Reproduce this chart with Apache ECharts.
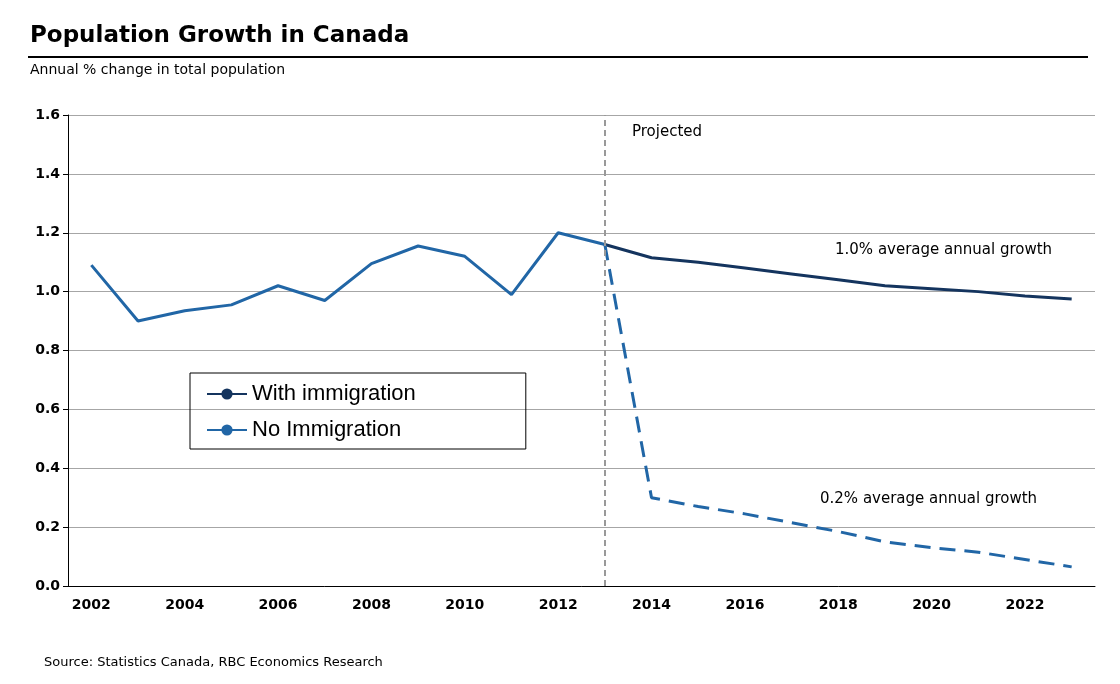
<!DOCTYPE html>
<html><head><meta charset="utf-8">
<script src="https://cdn.jsdelivr.net/npm/echarts@6/dist/echarts.min.js"></script>
<style>html,body{margin:0;background:#fff}#c{width:1120px;height:684px}</style>
</head><body><div id="c"></div>
<script>
const years = ['2002','2003','2004','2005','2006','2007','2008','2009','2010','2011','2012',
  '2013','2014','2015','2016','2017','2018','2019','2020','2021','2022','2023'];
const historical = [1.09,0.90,0.935,0.955,1.02,0.97,1.095,1.155,1.12,0.99,1.20,1.16,
  null,null,null,null,null,null,null,null,null,null];
const withImmigration = [null,null,null,null,null,null,null,null,null,null,null,1.16,
  1.115,1.10,1.08,1.06,1.04,1.02,1.01,1.00,0.985,0.975];
const noImmigration = [null,null,null,null,null,null,null,null,null,null,null,1.16,
  0.30,0.27,0.245,0.215,0.185,0.15,0.13,0.115,0.09,0.065];

const font = 'DejaVu Sans';
const chart = echarts.init(document.getElementById('c'));
chart.setOption({
  animation: false,
  textStyle: { fontFamily: font },
  grid: { left: 68, right: 25, top: 115, bottom: 98 },
  xAxis: {
    type: 'category', data: years, boundaryGap: true,
    axisLine: { lineStyle: { color: '#000' } },
    axisTick: { interval: 0, lineStyle: { color: '#000' }, length: 5 },
    axisLabel: { interval: 1, color: '#000', fontWeight: 'bold', fontSize: 14, margin: 12 }
  },
  yAxis: {
    type: 'value', min: 0, max: 1.6, interval: 0.2,
    axisLine: { show: true, lineStyle: { color: '#000' } },
    axisTick: { show: true, lineStyle: { color: '#000' } },
    splitLine: { lineStyle: { color: '#a6a6a6', width: 1.2 } },
    axisLabel: { color: '#000', fontWeight: 'bold', fontSize: 14, formatter: v => v.toFixed(1) }
  },
  legend: {
    orient: 'vertical', left: 190, top: 373,
    padding: [10, 110, 8, 16], itemGap: 14, itemWidth: 40, itemHeight: 14,
    borderColor: '#000', borderWidth: 1,
    textStyle: { fontFamily: 'Liberation Sans', fontSize: 22, color: '#000' },
    data: [{ name: 'With immigration' }, { name: 'No Immigration' }]
  },
  series: [
    { name: 'Historical', type: 'line', data: historical, symbol: 'none',
      lineStyle: { color: '#2166a6', width: 3 }, itemStyle: { color: '#2166a6' },
      markLine: { silent: true, symbol: 'none', label: { show: false },
        lineStyle: { color: '#999', type: [6, 4], width: 2 },
        data: [{ xAxis: '2013' }] } },
    { name: 'With immigration', type: 'line', data: withImmigration, symbol: 'none',
      lineStyle: { color: '#14345e', width: 3 }, itemStyle: { color: '#14345e' } },
    { name: 'No Immigration', type: 'line', data: noImmigration, symbol: 'none',
      lineStyle: { color: '#2166a6', width: 3, type: [16, 9] }, itemStyle: { color: '#2166a6' } }
  ],
  graphic: [
    { type: 'text', left: 30, top: 25, style: { text: 'Population Growth in Canada', font: 'bold 23px DejaVu Sans', fill: '#000' } },
    { type: 'line', shape: { x1: 28, y1: 57, x2: 1088, y2: 57 }, style: { stroke: '#000', lineWidth: 2 } },
    { type: 'text', left: 30, top: 63, style: { text: 'Annual % change in total population', font: '14px DejaVu Sans', fill: '#000' } },
    { type: 'text', left: 632, top: 125, style: { text: 'Projected', font: '15px DejaVu Sans', fill: '#000' } },
    { type: 'text', left: 835, top: 243, style: { text: '1.0% average annual growth', font: '15px DejaVu Sans', fill: '#000' } },
    { type: 'text', left: 820, top: 492, style: { text: '0.2% average annual growth', font: '15px DejaVu Sans', fill: '#000' } },
    { type: 'text', left: 44, top: 656, style: { text: 'Source: Statistics Canada, RBC Economics Research', font: '13px DejaVu Sans', fill: '#000' } }
  ]
});
</script></body></html>
